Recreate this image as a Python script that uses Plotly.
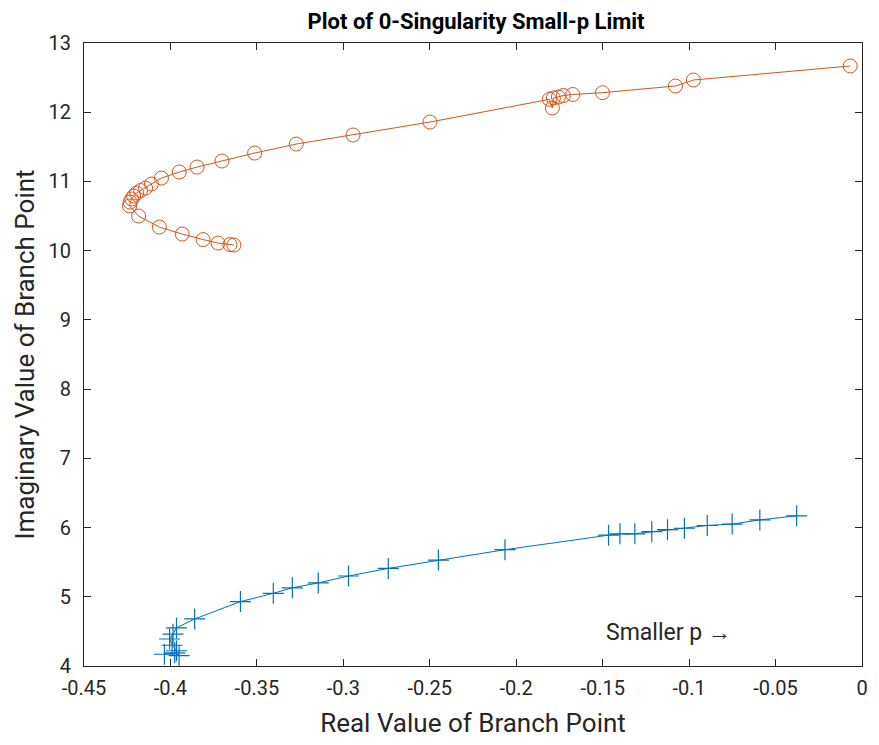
import plotly.graph_objects as go

# Blue series (+ markers)
blue_x = [-0.4035, -0.3975, -0.3950, -0.3965, -0.3990, -0.4005, -0.3985, -0.3965,
          -0.3860, -0.3595, -0.3405, -0.3295, -0.3145, -0.2970, -0.2740, -0.2450,
          -0.2065, -0.1466, -0.1400, -0.1314, -0.1216, -0.1125, -0.1027, -0.0895,
          -0.0751, -0.0591, -0.0378]
blue_y = [4.17, 4.19, 4.15, 4.22, 4.30, 4.39, 4.46, 4.55,
          4.68, 4.93, 5.05, 5.13, 5.20, 5.30, 5.41, 5.53,
          5.68, 5.89, 5.91, 5.91, 5.94, 5.97, 5.99, 6.03,
          6.05, 6.11, 6.17]

# Orange series (o markers)
orange_x = [-0.3633, -0.3656, -0.3725, -0.3811, -0.3932, -0.4064, -0.4184, -0.4236,
            -0.4233, -0.4224, -0.4213, -0.4196, -0.4173, -0.4144, -0.4110, -0.4052,
            -0.3949, -0.3846, -0.3702, -0.3513, -0.3272, -0.2944, -0.2499, -0.1808,
            -0.1791, -0.1785, -0.1756, -0.1727, -0.1673, -0.1501, -0.1079, -0.0975,
            -0.0068]
orange_y = [10.081, 10.088, 10.110, 10.160, 10.240, 10.341, 10.500, 10.645,
            10.702, 10.746, 10.789, 10.832, 10.869, 10.905, 10.963, 11.049,
            11.136, 11.208, 11.295, 11.410, 11.540, 11.671, 11.858, 12.186,
            12.061, 12.205, 12.220, 12.241, 12.256, 12.282, 12.379, 12.465,
            12.668]

x_ticks = [-0.45, -0.4, -0.35, -0.3, -0.25, -0.2, -0.15, -0.1, -0.05, 0]
x_tick_labels = ["-0.45", "-0.4", "-0.35", "-0.3", "-0.25", "-0.2", "-0.15", "-0.1", "-0.05", "0"]
y_ticks = [4, 5, 6, 7, 8, 9, 10, 11, 12, 13]

BLUE = "#0072BD"
ORANGE = "#D95319"
AX = "#262626"

fig = go.Figure()
fig.add_trace(go.Scatter(
    x=blue_x, y=blue_y, mode="lines+markers",
    line=dict(color=BLUE, width=1),
    marker=dict(symbol="cross-thin-open", size=15, line=dict(color=BLUE, width=1.2)),
    showlegend=False,
))
fig.add_trace(go.Scatter(
    x=orange_x, y=orange_y, mode="lines+markers",
    line=dict(color=ORANGE, width=1),
    marker=dict(symbol="circle-open", size=14, color=ORANGE, line=dict(color=ORANGE, width=1)),
    showlegend=False,
))

fig.add_annotation(
    x=-0.149, y=4.49, xref="x", yref="y", text="Smaller p →",
    showarrow=False, xanchor="left", yanchor="middle",
    font=dict(family="Roboto", size=23, color=AX),
)

axis_common = dict(
    showline=True, linecolor=AX, linewidth=1, mirror="ticks",
    ticks="inside", ticklen=7, tickcolor=AX, tickwidth=1,
    showgrid=False, zeroline=False,
    tickfont=dict(family="Roboto", size=20, color=AX),
)

fig.update_layout(
    width=879, height=745,
    margin=dict(l=84, r=11, t=43, b=79),
    paper_bgcolor="white", plot_bgcolor="white",
    title=dict(text="<b>Plot of 0-Singularity Small-p Limit</b>", x=0.5416, xanchor="center",
               y=0.971, yanchor="middle",
               font=dict(family="Roboto", size=22, color="black")),
    xaxis=dict(range=[-0.45, 0], tickvals=x_ticks, ticktext=x_tick_labels,
               ticklabelstandoff=4,
               title=dict(text="Real Value of Branch Point", standoff=14,
                          font=dict(family="Roboto", size=26, color=AX)),
               **axis_common),
    yaxis=dict(range=[4, 13], tickvals=y_ticks, ticklabelstandoff=8,
               title=dict(text="Imaginary Value of Branch Point", standoff=6,
                          font=dict(family="Roboto", size=26, color=AX)),
               **axis_common),
)

fig.write_html("out.html")
